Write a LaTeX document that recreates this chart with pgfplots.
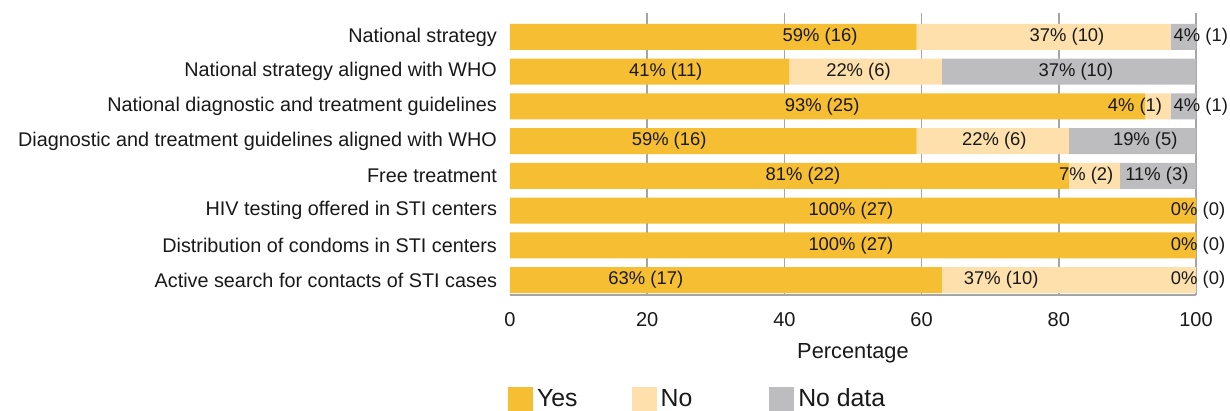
\documentclass[border=0pt]{standalone}
\usepackage{fontspec}
\setmainfont{Liberation Sans}
\usepackage{pgfplots}
\pgfplotsset{compat=1.18}

\definecolor{yescol}{RGB}{246,190,50}
\definecolor{nocol}{RGB}{253,224,171}
\definecolor{ndcol}{RGB}{189,189,191}
\definecolor{gridcol}{RGB}{165,165,165}
\definecolor{txtcol}{RGB}{25,25,25}

\pgfplotsset{frame/.style={
    scale only axis,
    width=343pt, height=141pt,
    xmin=0, xmax=100,
    ymin=-0.69, ymax=7.43,
    y dir=reverse}}

\begin{document}
\begin{tikzpicture}
\begin{axis}[
    frame,
    xbar stacked,
    bar width=13pt,
    axis y line*=left,
    y axis line style={draw=none},
    axis x line*=bottom,
    x axis line style={gridcol, line width=0.8pt},
    xtick={20,40,60,80,100},
    extra x ticks={0},
    extra x tick style={grid=none},
    xmajorgrids,
    grid style={gridcol, line width=0.8pt},
    major tick length=0pt,
    xticklabel style={font=\fontsize{10}{12}\selectfont, text=txtcol, yshift=-5pt},
    /pgf/number format/assume math mode=true,
    xlabel={Percentage},
    xlabel style={font=\fontsize{10.9}{12}\selectfont, text=txtcol, yshift=-2pt},
    ytick={0,...,7},
    yticklabels={National strategy,
        National strategy aligned with WHO,
        National diagnostic and treatment guidelines,
        Diagnostic and treatment guidelines aligned with WHO,
        Free treatment,
        HIV testing offered in STI centers,
        Distribution of condoms in STI centers,
        Active search for contacts of STI cases},
    yticklabel style={font=\fontsize{9.9}{11}\selectfont, text=txtcol, xshift=-3pt},
    legend style={at={(-0.012,-0.302)}, anchor=north west, draw=none,
        legend columns=3, font=\fontsize{12.4}{14}\selectfont, text=txtcol,
        /tikz/column 2/.style={column sep=25pt},
        /tikz/column 4/.style={column sep=36.5pt}},
    legend cell align=left,
]
% Yes (share of 27 countries, %)
\addplot[fill=yescol, draw=none,
    legend image code/.code={\fill[yescol] (0pt,-6.25pt) rectangle (12.5pt,6.25pt);}]
    coordinates {(59.26,0) (40.74,1) (92.59,2) (59.26,3) (81.48,4) (100,5) (100,6) (62.96,7)};
\addlegendentry{Yes}
% No
\addplot[fill=nocol, draw=none,
    legend image code/.code={\fill[nocol] (0pt,-6.25pt) rectangle (12.5pt,6.25pt);}]
    coordinates {(37.04,0) (22.22,1) (3.70,2) (22.22,3) (7.41,4) (0,5) (0,6) (37.04,7)};
\addlegendentry{No}
% No data
\addplot[fill=ndcol, draw=none,
    legend image code/.code={\fill[ndcol] (0pt,-6.25pt) rectangle (12.5pt,6.25pt);}]
    coordinates {(3.70,0) (37.04,1) (3.70,2) (18.52,3) (11.11,4) (0,5) (0,6) (0,7)};
\addlegendentry{No data}
\end{axis}

% segment labels, on top of the bars
\begin{axis}[frame, hide axis, clip=false]
\addplot[only marks, mark size=0pt, mark options={draw=none, fill=none},
    point meta=explicit symbolic, nodes near coords,
    every node near coord/.append style={anchor=center, inner sep=0pt,
        font=\fontsize{9.2}{10}\selectfont, text=txtcol}]
    coordinates {
    (45.2,0) [59\% (16)]   (81.2,0) [37\% (10)]  (100.7,0) [4\% (1)]
    (22.7,1) [41\% (11)]   (50.8,1) [22\% (6)]   (82.5,1) [37\% (10)]
    (45.5,2) [93\% (25)]   (91.1,2) [4\% (1)]    (100.7,2) [4\% (1)]
    (23.2,3) [59\% (16)]   (70.6,3) [22\% (6)]   (92.6,3) [19\% (5)]
    (42.7,4) [81\% (22)]   (84.0,4) [7\% (2)]    (94.3,4) [11\% (3)]
    (49.7,5) [100\% (27)]  (100.3,5) [0\% (0)]
    (49.7,6) [100\% (27)]  (100.3,6) [0\% (0)]
    (19.8,7) [63\% (17)]   (71.6,7) [37\% (10)]  (100.3,7) [0\% (0)]
    };
\end{axis}
\pgfresetboundingbox
\path ([shift={(-255pt,-58pt)}]current axis.south west) rectangle ([shift={(17pt,6.5pt)}]current axis.north east);
\end{tikzpicture}
\end{document}
